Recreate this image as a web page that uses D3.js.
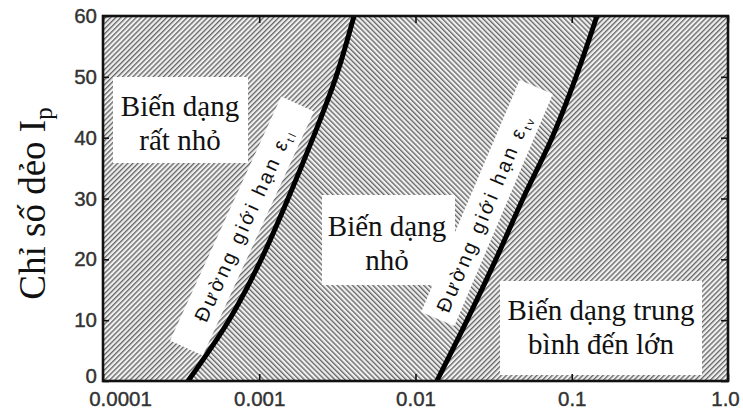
<!DOCTYPE html>
<html>
<head>
<meta charset="utf-8">
<script src="https://cdn.jsdelivr.net/npm/d3@7/dist/d3.min.js"></script>
<style>
  html, body { margin: 0; padding: 0; background: #fff; }
  svg { display: block; }
</style>
</head>
<body>
<svg id="chart" width="743" height="413"></svg>
<script>
// Strain levels on the log axis and plasticity index ticks
const xTicks = [0.0001, 0.001, 0.01, 0.1, 1.0];
const xTickLabels = ["0.0001", "0.001", "0.01", "0.1", "1.0"];
const yTicks = [0, 10, 20, 30, 40, 50, 60];

// Threshold curves: [shear strain, plasticity index Ip]
const linearLimit = [
  [0.00035, 0], [0.00064, 10], [0.00103, 20], [0.00153, 30],
  [0.00221, 40], [0.00310, 50], [0.00404, 60]
];
const volumetricLimit = [
  [0.0137, 0], [0.0214, 10], [0.0327, 20], [0.0488, 30],
  [0.0748, 40], [0.1065, 50], [0.1450, 60]
];

// Region names
const regionVerySmall = ["Biến dạng", "rất nhỏ"];
const regionSmall = ["Biến dạng", "nhỏ"];
const regionLarge = ["Biến dạng trung", "bình đến lớn"];
const curveLabelText = "Đường giới hạn ε";
const curveSubs = ["tl", "tv"];
const yTitle = "Chỉ số dẻo I";
const yTitleSub = "p";

const W = 743, H = 413;
const margin = { top: 16, right: 15, bottom: 32, left: 103 };
const x = d3.scaleLog().domain([1e-4, 1]).range([margin.left, W - margin.right]);
const y = d3.scaleLinear().domain([0, 60]).range([H - margin.bottom, margin.top]);

const svg = d3.select("#chart");
const defs = svg.append("defs");

function hatch(id, angle) {
  const p = defs.append("pattern")
    .attr("id", id)
    .attr("patternUnits", "userSpaceOnUse")
    .attr("width", 3.6).attr("height", 3.6)
    .attr("patternTransform", `rotate(${angle})`);
  p.append("rect").attr("width", 3.6).attr("height", 3.6).attr("fill", "#f0f0f0");
  p.append("rect").attr("width", 1.35).attr("height", 3.6).attr("fill", "#666666");
}
hatch("hatchUp", 45);
hatch("hatchDown", -45);

defs.append("clipPath").attr("id", "plotClip")
  .append("rect")
  .attr("x", margin.left).attr("y", margin.top)
  .attr("width", x.range()[1] - x.range()[0])
  .attr("height", y.range()[0] - y.range()[1]);

const plot = svg.append("g").attr("clip-path", "url(#plotClip)");

// Base hatching for the outer regions
plot.append("rect")
  .attr("x", margin.left).attr("y", margin.top)
  .attr("width", x.range()[1] - x.range()[0])
  .attr("height", y.range()[0] - y.range()[1])
  .attr("fill", "url(#hatchUp)");

const line = d3.line()
  .x(d => x(d[0]))
  .y(d => y(d[1]))
  .curve(d3.curveCatmullRom.alpha(0.5));

// Middle region between the two threshold curves
const midPath = line(linearLimit) + "L" + line(volumetricLimit.slice().reverse()).slice(1) + "Z";
plot.append("path").attr("d", midPath).attr("fill", "url(#hatchDown)");

// Region label boxes
function regionBox(lines, x0, y0, w, h, cx, baseline0, lh) {
  plot.append("rect").attr("x", x0).attr("y", y0).attr("width", w).attr("height", h).attr("fill", "#fff");
  lines.forEach((t, i) => {
    plot.append("text")
      .attr("x", cx).attr("y", baseline0 + i * lh)
      .attr("text-anchor", "middle")
      .attr("font-family", "'Liberation Serif', 'Times New Roman', serif")
      .attr("font-size", 29)
      .attr("fill", "#111")
      .text(t);
  });
}
regionBox(regionVerySmall, 113, 77, 135, 86, 180, 116, 34);
regionBox(regionSmall, 322, 195, 133, 90, 387, 236, 34);
regionBox(regionLarge, 500, 281, 202, 94, 601, 320, 34);

// Rotated labels along the curves
function curveLabel(cx, cy, angle, len, sub, tdx, tdy) {
  const g = plot.append("g").attr("transform", `translate(${cx},${cy}) rotate(${angle})`);
  g.append("rect").attr("x", -len / 2).attr("y", -18).attr("width", len).attr("height", 36).attr("fill", "#fff");
  const t = g.append("text")
    .attr("x", tdx).attr("y", tdy)
    .attr("text-anchor", "middle")
    .attr("font-family", "'Liberation Sans', Arial, sans-serif")
    .attr("font-size", 20)
    .attr("letter-spacing", 2.8)
    .attr("fill", "#111");
  t.append("tspan").text(curveLabelText);
  t.append("tspan").attr("font-size", 11).attr("dy", 4).text(sub);
}
curveLabel(242, 226, -65.5, 268, curveSubs[0], 2, 8);
curveLabel(487, 203, -67, 252, curveSubs[1], -10, 8);

// Threshold curves
[linearLimit, volumetricLimit].forEach(d => {
  plot.append("path").attr("d", line(d))
    .attr("fill", "none").attr("stroke", "#000").attr("stroke-width", 5);
});

// Axes
const tickFont = "'Liberation Sans', Arial, sans-serif";
const gx = svg.append("g").attr("transform", `translate(0,${y(0)})`)
  .call(d3.axisBottom(x).tickValues(xTicks).tickFormat((d, i) => xTickLabels[i]).tickSizeInner(-7).tickSizeOuter(0).tickPadding(10));
const gxt = svg.append("g").attr("transform", `translate(0,${y(60)})`)
  .call(d3.axisTop(x).tickValues(xTicks).tickFormat("").tickSizeInner(-7).tickSizeOuter(0));
const gy = svg.append("g").attr("transform", `translate(${x(1e-4)},0)`)
  .call(d3.axisLeft(y).tickValues(yTicks).tickSizeInner(-6).tickSizeOuter(0).tickPadding(5));
const gyr = svg.append("g").attr("transform", `translate(${x(1)},0)`)
  .call(d3.axisRight(y).tickValues(yTicks).tickFormat("").tickSizeInner(-7).tickSizeOuter(0));

[gx, gxt, gy, gyr].forEach(g => {
  g.select(".domain").remove();
  g.selectAll(".tick line").attr("stroke", "#111").attr("stroke-width", 1.6);
  g.selectAll(".tick text")
    .attr("font-family", tickFont).attr("font-size", 20.5).attr("fill", "#333")
    .attr("stroke", "#333").attr("stroke-width", 0.4);
});
gx.selectAll(".tick text").attr("dy", "0.71em").attr("dx", (d, i) => i === 0 ? 17 : (i === xTicks.length - 1 ? -3 : 0));
gy.selectAll(".tick text").attr("dx", -1).attr("dy", d => d === 0 ? "0.05em" : "0.32em");

// Frame
svg.append("rect")
  .attr("x", margin.left).attr("y", margin.top)
  .attr("width", x.range()[1] - x.range()[0])
  .attr("height", y.range()[0] - y.range()[1])
  .attr("fill", "none").attr("stroke", "#111").attr("stroke-width", 2.6);

// Y-axis title
const yt = svg.append("text")
  .attr("transform", `translate(45,${(y(0) + y(60)) / 2 + 5}) rotate(-90)`)
  .attr("text-anchor", "middle")
  .attr("font-family", "'Liberation Serif', 'Times New Roman', serif")
  .attr("font-size", 37)
  .attr("fill", "#111");
yt.append("tspan").text(yTitle);
yt.append("tspan").attr("font-size", 25).attr("dy", 7).text(yTitleSub);
</script>
</body>
</html>
